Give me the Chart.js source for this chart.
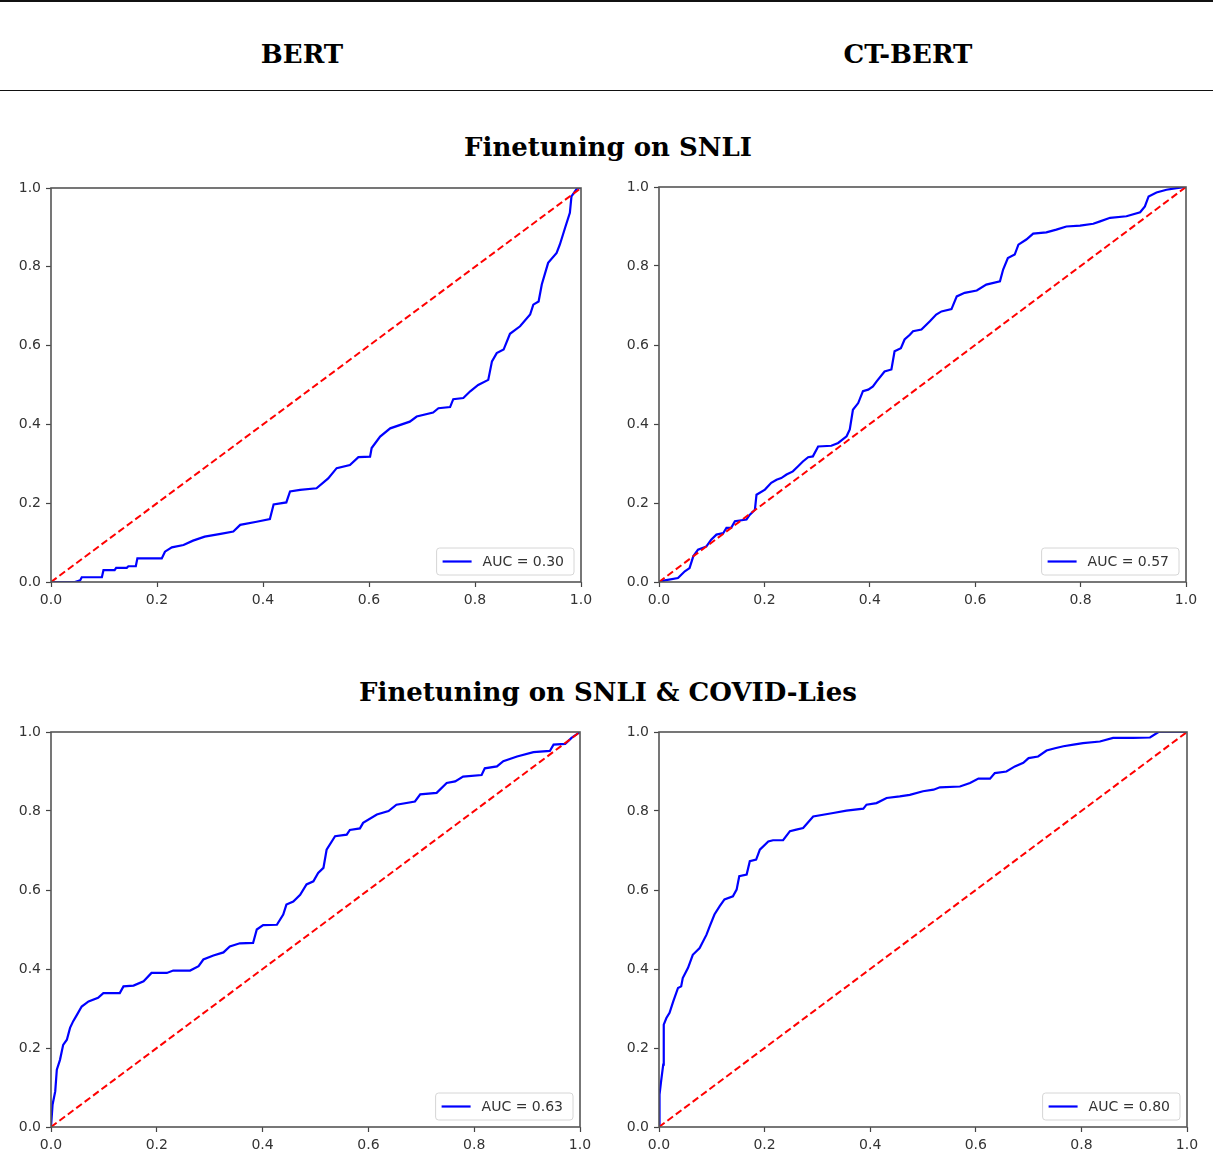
<!DOCTYPE html>
<html>
<head>
<meta charset="utf-8">
<title>ROC curves - BERT vs CT-BERT</title>
<script src="https://cdn.jsdelivr.net/npm/chart.js@4.4.1/dist/chart.umd.min.js"></script>
<style>
  body { margin: 0; background: #fff; }
  #page { position: relative; width: 1213px; height: 1160px; overflow: hidden; }
  .rule { position: absolute; left: 0; width: 1213px; height: 1px; background: #111; }
  .head {
    position: absolute; text-align: center; white-space: nowrap;
    font-family: "DejaVu Serif", serif; font-weight: bold;
    font-size: 26px; line-height: 26px; color: #000;
  }
  canvas { position: absolute; }
</style>
</head>
<body>
<div id="page">
  <div class="rule" style="top:0px; height:1.5px"></div>
  <div class="head" style="left:152px; top:41px; width:300px">BERT</div>
  <div class="head" style="left:758px; top:41px; width:300px">CT-BERT</div>
  <div class="rule" style="top:90px"></div>
  <div class="head" style="left:258px; top:134px; width:700px">Finetuning on SNLI</div>
  <div class="head" style="left:258px; top:679px; width:700px">Finetuning on SNLI &amp; COVID-Lies</div>

  <canvas id="c1" style="left:0px; top:165px"></canvas>
  <canvas id="c2" style="left:606px; top:165px"></canvas>
  <canvas id="c3" style="left:0px; top:710px"></canvas>
  <canvas id="c4" style="left:606px; top:710px"></canvas>
</div>

<script>
// Axis ticks (same for every panel)
const tickValues = [0.0, 0.2, 0.4, 0.6, 0.8, 1.0];

// Chance line
const chanceX = [0, 1];
const chanceY = [0, 1];

// BERT, finetuned on SNLI (AUC 0.30)
const bertSnliFpr = [0, 0.045, 0.055, 0.058, 0.096, 0.099, 0.12, 0.123, 0.143, 0.146, 0.16, 0.163, 0.209, 0.215, 0.228, 0.25, 0.268, 0.29, 0.32, 0.344, 0.357, 0.388, 0.413, 0.42, 0.444, 0.451, 0.47, 0.501, 0.523, 0.539, 0.564, 0.58, 0.602, 0.605, 0.621, 0.64, 0.677, 0.69, 0.721, 0.731, 0.753, 0.759, 0.778, 0.791, 0.806, 0.825, 0.832, 0.841, 0.854, 0.866, 0.885, 0.904, 0.91, 0.92, 0.926, 0.938, 0.954, 0.96, 0.97, 0.979, 0.982, 0.992, 1.0];
const bertSnliTpr = [0, 0, 0.004, 0.012, 0.012, 0.03, 0.03, 0.036, 0.036, 0.04, 0.04, 0.06, 0.06, 0.077, 0.088, 0.094, 0.105, 0.115, 0.122, 0.128, 0.145, 0.153, 0.16, 0.197, 0.202, 0.23, 0.234, 0.238, 0.263, 0.289, 0.297, 0.317, 0.318, 0.34, 0.369, 0.39, 0.407, 0.42, 0.43, 0.441, 0.444, 0.464, 0.467, 0.484, 0.5, 0.513, 0.56, 0.581, 0.59, 0.63, 0.649, 0.679, 0.704, 0.712, 0.755, 0.81, 0.835, 0.856, 0.899, 0.937, 0.979, 0.998, 1.0];

// CT-BERT, finetuned on SNLI (AUC 0.57)
const ctSnliFpr = [0, 0.011, 0.036, 0.049, 0.058, 0.065, 0.074, 0.09, 0.099, 0.109, 0.122, 0.128, 0.137, 0.144, 0.166, 0.172, 0.182, 0.185, 0.201, 0.213, 0.223, 0.232, 0.242, 0.254, 0.264, 0.273, 0.283, 0.292, 0.302, 0.327, 0.34, 0.356, 0.362, 0.368, 0.378, 0.387, 0.397, 0.406, 0.413, 0.428, 0.441, 0.447, 0.459, 0.466, 0.476, 0.482, 0.498, 0.514, 0.526, 0.536, 0.555, 0.565, 0.58, 0.603, 0.621, 0.647, 0.653, 0.662, 0.675, 0.682, 0.697, 0.71, 0.735, 0.754, 0.773, 0.799, 0.824, 0.837, 0.856, 0.887, 0.913, 0.922, 0.929, 0.944, 0.963, 0.982, 1.0];
const ctSnliTpr = [0, 0.004, 0.01, 0.027, 0.035, 0.065, 0.082, 0.09, 0.107, 0.12, 0.124, 0.137, 0.137, 0.154, 0.158, 0.17, 0.183, 0.221, 0.234, 0.251, 0.259, 0.263, 0.272, 0.28, 0.293, 0.305, 0.316, 0.318, 0.343, 0.345, 0.352, 0.369, 0.386, 0.436, 0.453, 0.483, 0.487, 0.495, 0.508, 0.533, 0.538, 0.584, 0.592, 0.614, 0.626, 0.635, 0.639, 0.66, 0.677, 0.685, 0.691, 0.723, 0.732, 0.738, 0.753, 0.761, 0.791, 0.82, 0.829, 0.854, 0.867, 0.882, 0.885, 0.892, 0.9, 0.902, 0.907, 0.913, 0.922, 0.926, 0.936, 0.951, 0.976, 0.986, 0.993, 0.997, 1.0];

// BERT, finetuned on SNLI & COVID-Lies (AUC 0.63)
const bertCovidFpr = [0, 0.003, 0.008, 0.011, 0.017, 0.023, 0.03, 0.036, 0.042, 0.049, 0.058, 0.071, 0.089, 0.099, 0.13, 0.137, 0.156, 0.175, 0.19, 0.219, 0.231, 0.263, 0.279, 0.288, 0.307, 0.326, 0.338, 0.357, 0.382, 0.389, 0.401, 0.427, 0.439, 0.445, 0.458, 0.471, 0.483, 0.496, 0.505, 0.515, 0.521, 0.537, 0.559, 0.565, 0.584, 0.59, 0.616, 0.638, 0.653, 0.688, 0.698, 0.729, 0.748, 0.764, 0.779, 0.814, 0.82, 0.843, 0.855, 0.881, 0.912, 0.943, 0.95, 0.972, 0.984, 1.0];
const bertCovidTpr = [0, 0.057, 0.09, 0.145, 0.17, 0.208, 0.221, 0.251, 0.268, 0.284, 0.305, 0.318, 0.327, 0.339, 0.339, 0.356, 0.358, 0.369, 0.39, 0.39, 0.396, 0.396, 0.407, 0.424, 0.434, 0.442, 0.457, 0.465, 0.466, 0.5, 0.511, 0.512, 0.538, 0.563, 0.571, 0.588, 0.614, 0.622, 0.643, 0.656, 0.702, 0.736, 0.74, 0.752, 0.756, 0.77, 0.791, 0.8, 0.816, 0.824, 0.842, 0.846, 0.871, 0.875, 0.887, 0.891, 0.908, 0.913, 0.926, 0.938, 0.949, 0.952, 0.968, 0.97, 0.985, 1.0];

// CT-BERT, finetuned on SNLI & COVID-Lies (AUC 0.80)
const ctCovidFpr = [0, 0.001, 0.004, 0.008, 0.009, 0.014, 0.02, 0.027, 0.036, 0.042, 0.045, 0.055, 0.064, 0.077, 0.09, 0.096, 0.105, 0.115, 0.124, 0.14, 0.147, 0.152, 0.166, 0.172, 0.184, 0.191, 0.207, 0.216, 0.235, 0.248, 0.26, 0.273, 0.292, 0.33, 0.355, 0.387, 0.393, 0.412, 0.431, 0.456, 0.475, 0.5, 0.52, 0.532, 0.57, 0.589, 0.605, 0.627, 0.636, 0.658, 0.674, 0.69, 0.7, 0.718, 0.734, 0.75, 0.766, 0.785, 0.803, 0.835, 0.86, 0.898, 0.93, 0.946, 1.0];
const ctCovidTpr = [0, 0.082, 0.116, 0.158, 0.259, 0.276, 0.289, 0.318, 0.352, 0.356, 0.377, 0.403, 0.436, 0.453, 0.487, 0.508, 0.538, 0.559, 0.576, 0.584, 0.601, 0.635, 0.639, 0.673, 0.677, 0.702, 0.723, 0.726, 0.726, 0.749, 0.753, 0.757, 0.786, 0.795, 0.801, 0.806, 0.816, 0.82, 0.833, 0.837, 0.841, 0.85, 0.854, 0.86, 0.862, 0.871, 0.882, 0.882, 0.896, 0.9, 0.913, 0.922, 0.934, 0.938, 0.953, 0.959, 0.964, 0.968, 0.972, 0.976, 0.985, 0.985, 0.986, 1.0, 1.0];

// One entry per panel: canvas, data, legend text and where the plot box sits
const panels = [
  { id: 'c1', fpr: bertSnliFpr, tpr: bertSnliTpr, label: 'AUC = 0.30', w: 606, h: 450, yAxisW: 51, xAxisH: 33, padTop: 23, padRight: 25 },
  { id: 'c2', fpr: ctSnliFpr, tpr: ctSnliTpr, label: 'AUC = 0.57', w: 607, h: 450, yAxisW: 53, xAxisH: 33, padTop: 22, padRight: 27 },
  { id: 'c3', fpr: bertCovidFpr, tpr: bertCovidTpr, label: 'AUC = 0.63', w: 606, h: 450, yAxisW: 51, xAxisH: 33, padTop: 22, padRight: 26 },
  { id: 'c4', fpr: ctCovidFpr, tpr: ctCovidTpr, label: 'AUC = 0.80', w: 607, h: 450, yAxisW: 53, xAxisH: 33, padTop: 22, padRight: 26 }
];

const tickFont = { family: 'DejaVu Sans', size: 14 };

// Draws the axes frame (all four spines) on top of the lines
const framePlugin = {
  id: 'frame',
  afterDatasetsDraw(chart) {
    const a = chart.chartArea;
    const ctx = chart.ctx;
    ctx.save();
    ctx.strokeStyle = '#555';
    ctx.lineWidth = 1.6;
    ctx.strokeRect(a.left, a.top, a.right - a.left, a.bottom - a.top);
    ctx.restore();
  }
};

// matplotlib style legend, lower right inside the axes
const cornerLegend = {
  id: 'cornerLegend',
  afterDraw(chart) {
    const ds = chart.data.datasets.find(d => d.showInLegend);
    if (!ds) return;
    const a = chart.chartArea;
    const ctx = chart.ctx;
    ctx.save();
    ctx.font = '14px "DejaVu Sans"';
    const textW = ctx.measureText(ds.label).width;
    const boxW = 8 + 29 + 12 + textW + 7;
    const boxH = 27;
    const x = a.right - 7 - boxW;
    const y = a.bottom - 7 - boxH;
    ctx.beginPath();
    ctx.roundRect(x, y, boxW, boxH, 3);
    ctx.fillStyle = 'rgba(255,255,255,0.85)';
    ctx.fill();
    ctx.strokeStyle = '#d6d6d6';
    ctx.lineWidth = 1;
    ctx.stroke();
    ctx.beginPath();
    ctx.moveTo(x + 6, y + boxH / 2);
    ctx.lineTo(x + 35, y + boxH / 2);
    ctx.strokeStyle = ds.borderColor;
    ctx.lineWidth = 2.2;
    ctx.stroke();
    ctx.fillStyle = '#333';
    ctx.textBaseline = 'middle';
    ctx.fillText(ds.label, x + 46, y + boxH / 2 + 0.5);
    ctx.restore();
  }
};

function axisOptions(p, isX) {
  return {
    type: 'linear',
    min: 0,
    max: 1,
    afterBuildTicks: scale => { scale.ticks = tickValues.map(v => ({ value: v })); },
    afterFit: scale => {
      if (isX) scale.height = p.xAxisH;
      else scale.width = p.yAxisW;
    },
    ticks: {
      font: tickFont,
      color: '#333',
      padding: 5,
      callback: v => v.toFixed(1)
    },
    grid: {
      drawOnChartArea: false,
      drawTicks: true,
      tickLength: 5,
      tickColor: '#444',
      tickWidth: 1.2
    },
    border: { display: false }
  };
}

function makeChart(p) {
  const canvas = document.getElementById(p.id);
  canvas.width = p.w;
  canvas.height = p.h;
  canvas.style.width = p.w + 'px';
  canvas.style.height = p.h + 'px';

  const rocPoints = p.fpr.map((x, i) => ({ x: x, y: p.tpr[i] }));
  const chancePoints = chanceX.map((x, i) => ({ x: x, y: chanceY[i] }));

  return new Chart(canvas.getContext('2d'), {
    type: 'line',
    data: {
      datasets: [
        {
          label: p.label,
          showInLegend: true,
          data: rocPoints,
          borderColor: '#0000ff',
          borderWidth: 2.2,
          pointRadius: 0,
          tension: 0,
          order: 1
        },
        {
          label: 'chance',
          data: chancePoints,
          borderColor: '#ff0000',
          borderWidth: 2,
          borderDash: [7, 3.5],
          pointRadius: 0,
          tension: 0,
          order: 0
        }
      ]
    },
    options: {
      responsive: false,
      animation: false,
      devicePixelRatio: 1,
      layout: { padding: { top: p.padTop, right: p.padRight, left: 0, bottom: 0 } },
      plugins: {
        legend: { display: false },
        tooltip: { enabled: false }
      },
      scales: {
        x: axisOptions(p, true),
        y: axisOptions(p, false)
      }
    },
    plugins: [framePlugin, cornerLegend]
  });
}

panels.forEach(makeChart);
</script>
</body>
</html>
